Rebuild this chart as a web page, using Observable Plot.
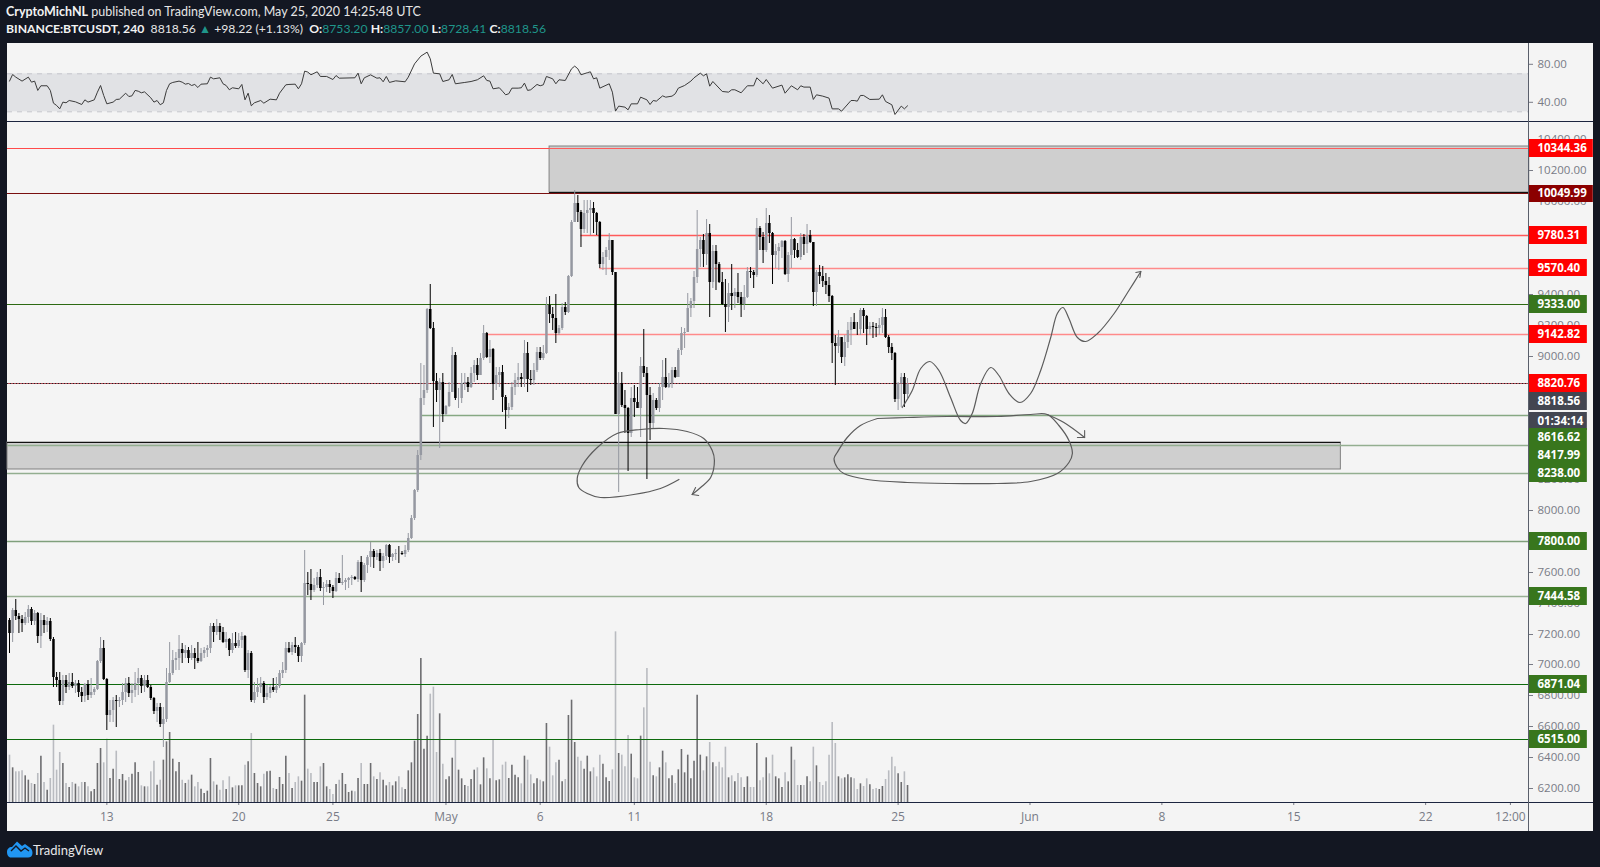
<!DOCTYPE html>
<html><head><meta charset="utf-8">
<script src="https://cdn.jsdelivr.net/npm/d3@7"></script>
<script src="https://cdn.jsdelivr.net/npm/@observablehq/plot@0.6"></script>
<style>
html,body{margin:0;padding:0;background:#131722;overflow:hidden}
#stage{position:relative;width:1600px;height:867px;background:#131722;font-family:"Open Sans",sans-serif}
#pane{position:absolute;left:7px;top:43px;width:1586px;height:788px;background:#f4f4f4}
.sep{position:absolute;left:7px;width:1586px;height:1px;background:#1c2540}
#vaxis{position:absolute;left:1528px;top:43px;width:1px;height:788px;background:#5a5f6b}
.hdr{position:absolute;left:6px;color:#e6e6e6;white-space:nowrap;font-family:Lato,sans-serif}
.hdr b{color:#f2f2f2}.hdr i{font-style:normal;color:#1f958a}
#brand{position:absolute;left:33px;top:842px;color:#e8e8e8;font-size:13px;font-family:Lato,sans-serif}
#logo{position:absolute;left:6px;top:840px}
svg.plot,figure{margin:0}
</style></head><body>
<div id="stage">
<div id="pane"></div>
<div class="hdr" style="top:4px;font-size:12.5px"><b>CryptoMichNL</b> published on TradingView.com, May 25, 2020 14:25:48 UTC</div>
<div class="hdr" style="top:21px;font-size:12.2px"><b>BINANCE:BTCUSDT, 240</b>&nbsp; 8818.56 <i>▲</i> +98.22 (+1.13%) &nbsp;<b>O:</b><i>8753.20</i> <b>H:</b><i>8857.00</i> <b>L:</b><i>8728.41</i> <b>C:</b><i>8818.56</i></div>
<svg id="logo" width="27" height="18" viewBox="0 0 27 18"><path d="M1 12 C1 9 3 7 6 7 L11 1.5 L16 6 L19 4 L23 7 C25 8 26.500 10 26.500 13 C26.500 16 24.500 17.500 22 17.500 L5 17.500 C2.500 17.500 1 15 1 12 Z" fill="#2196f3"/><path d="M5 11 L10 6 L15 11 L19 8 L23 11" fill="none" stroke="#131722" stroke-width="1.400"/></svg>
<div id="brand">TradingView</div>
</div>
<script>
const firstOpen = 7288;
const close = [7201,7352,7314,7292,7270,7305,7357,7283,7331,7184,
7288,7255,7283,7162,6920,6899,6763,6899,6856,6888,
6860,6877,6823,6795,6871,6799,6823,6840,7022,7104,
6903,6672,6704,6769,6763,6769,6823,6877,6812,6834,
6877,6910,6860,6899,6856,6780,6700,6726,6612,6644,
6888,6942,7028,7039,7098,7076,7093,7039,7072,7039,
7022,7072,7093,7104,7249,7212,7249,7212,7147,7162,
7093,7136,7119,7158,7184,6964,7072,6769,6823,6856,
6877,6786,6812,6856,6834,6860,6942,6964,7104,7080,
7126,7110,7056,7136,7529,7520,7481,7514,7568,7492,
7503,7520,7503,7477,7557,7529,7535,7546,7557,7568,
7550,7665,7546,7643,7697,7734,7697,7719,7671,7702,
7773,7697,7715,7723,7719,7717,7740,7816,7946,8129,
8356,8723,8777,9299,9176,8837,8777,8831,8621,8675,
8766,9003,8723,8728,8821,8832,8799,8886,8940,8875,
8983,9145,8993,9041,8816,8875,8896,8734,8648,8670,
8799,8842,8864,8847,9015,8847,8842,8907,9022,8983,
9015,9328,9270,9242,9145,9177,9317,9285,9516,9868,
9987,9933,9818,9926,9943,9954,9922,9868,9594,9641,
9684,9749,9544,8622,8825,8680,8659,8501,8724,8702,
8659,8933,8886,8745,8562,8713,8659,8799,8864,8799,
8825,8907,8864,9037,9144,9155,9310,9353,9511,9688,
9749,9656,9796,9474,9677,9593,9474,9334,9317,9403,
9386,9414,9381,9332,9381,9548,9539,9522,9824,9770,
9684,9861,9792,9651,9677,9705,9742,9526,9651,9755,
9684,9641,9770,9720,9781,9733,9410,9539,9515,9483,
9457,9386,9079,9064,9122,8993,9090,9166,9220,9172,
9170,9295,9258,9172,9194,9183,9181,9198,9252,9122,
9058,9014,8719,8820,8863,8753.2,8818.56];
const high = [7298,7363,7422,7335,7320,7342,7385,7374,7352,7342,
7331,7320,7309,7298,7180,6953,6953,6931,6931,6942,
6942,6899,6899,6856,6877,6899,6910,6856,7028,7180,
7158,6910,6769,6791,6802,6791,6877,6910,6916,6877,
6953,6974,6931,6931,6931,6866,6786,6748,6748,6726,
6974,7147,7093,7082,7190,7141,7126,7115,7126,7104,
7147,7104,7115,7126,7266,7266,7292,7266,7244,7212,
7169,7201,7212,7201,7212,7190,7093,7087,6888,6910,
6920,6894,6866,6866,6910,6920,6964,7018,7147,7147,
7147,7180,7126,7147,7740,7600,7617,7557,7600,7617,
7535,7546,7546,7514,7600,7594,7708,7557,7568,7578,
7572,7676,7702,7654,7708,7794,7745,7740,7745,7719,
7777,7777,7723,7745,7766,7734,7773,7848,7967,8133,
8388,8954,8939,9306,9461,9219,8885,8852,8885,8680,
8831,9057,9025,8788,8890,8886,8864,8929,8972,8983,
9015,9199,9155,9101,9047,8929,8929,8939,8745,8691,
8832,8890,8950,8890,9101,9091,8907,8950,9058,9058,
9069,9382,9386,9317,9399,9199,9339,9350,9522,9879,
10073,10041,9943,10008,10008,10008,9997,9933,9874,9674,
9706,9792,9749,9544,8896,8896,8778,8670,8799,8810,
8799,8993,9171,8929,8799,8756,8724,8821,8972,8983,
8886,8929,8929,9047,9187,9176,9403,9371,9548,9943,
9770,9785,9885,9850,9716,9716,9608,9539,9494,9468,
9591,9435,9537,9414,9457,9576,9576,9554,9893,9841,
9803,9958,9910,9798,9720,9731,9749,9749,9673,9900,
9759,9731,9792,9785,9850,9813,9738,9554,9587,9580,
9537,9511,9392,9133,9166,9112,9133,9220,9252,9274,
9220,9310,9306,9263,9220,9220,9209,9241,9306,9302,
9133,9079,9025,8831,8885,8885,8857];
const low = [7076,7147,7288,7201,7212,7255,7266,7255,7255,7141,
7104,7201,7212,7154,6856,6856,6737,6737,6812,6834,
6845,6812,6791,6758,6758,6769,6780,6802,6834,7007,
6899,6575,6629,6629,6596,6726,6737,6758,6791,6748,
6791,6802,6812,6823,6845,6769,6678,6629,6596,6467,
6629,6877,6931,6964,6964,7011,7039,7007,7028,6970,
7011,7018,7039,7050,7072,7147,7190,7158,7136,7104,
7054,7072,7104,7104,7104,6953,6910,6758,6748,6791,
6812,6752,6769,6780,6823,6812,6845,6910,6942,7072,
7061,7072,7018,7018,7126,7449,7417,7471,7492,7477,
7384,7471,7464,7427,7471,7525,7514,7481,7492,7514,
7546,7535,7471,7535,7589,7632,7626,7676,7604,7622,
7676,7654,7671,7676,7654,7708,7697,7730,7810,7935,
8118,8323,8680,8755,9170,8539,8701,8399,8572,8615,
8669,8766,8712,8659,8691,8778,8767,8788,8832,8842,
8875,8972,8983,8950,8713,8778,8799,8637,8523,8594,
8648,8745,8799,8799,8799,8767,8810,8810,8896,8972,
8972,9011,9209,9166,9080,9134,9166,9263,9274,9512,
9868,9868,9706,9792,9792,9781,9792,9781,9566,9555,
9522,9620,9522,8622,8115,8670,8497,8253,8475,8605,
8659,8475,8864,8199,8454,8529,8648,8637,8713,8788,
8788,8788,8853,8864,9004,9047,9150,9252,9306,9468,
9576,9576,9587,9252,9435,9425,9468,9328,9150,9220,
9295,9306,9338,9252,9295,9371,9500,9435,9511,9684,
9597,9673,9727,9461,9565,9554,9630,9522,9474,9565,
9630,9630,9619,9651,9662,9727,9323,9323,9461,9446,
9397,9349,8950,8809,9014,8950,8935,9047,9068,9172,
9133,9133,9144,9068,9133,9112,9122,9133,9144,9112,
9014,8971,8697,8647,8669,8669,8728.41];
const volume = [142,104,92,92,95,80,67,57,54,87,139,60,37,72,232,97,150,117,57,45,
60,55,47,60,60,47,32,39,117,162,119,190,72,100,154,69,84,65,75,85,
119,90,50,47,47,92,124,52,67,127,182,210,130,92,120,67,57,67,82,47,
60,40,27,34,132,62,52,37,65,39,77,44,50,50,50,112,122,207,87,57,
47,85,92,94,42,39,75,54,139,87,42,60,77,64,322,100,87,60,60,107,
117,47,39,24,54,67,87,54,30,34,32,72,117,54,54,117,77,69,89,67,
50,60,50,62,77,44,39,95,119,184,264,432,160,199,325,346,150,266,115,68,
77,133,188,97,71,51,48,69,97,104,53,134,101,71,188,65,68,112,121,72,
112,82,74,56,139,127,83,56,71,67,62,237,166,80,119,127,62,69,261,307,
180,136,124,100,139,92,104,77,142,115,74,63,98,512,147,142,107,201,145,74,
71,199,284,402,121,80,77,104,154,119,71,80,57,98,159,89,142,71,124,322,
142,95,137,180,119,107,121,104,166,74,80,62,87,74,45,77,45,45,177,65,
74,134,86,142,77,71,45,89,62,166,127,51,51,51,77,62,166,110,60,51,
62,142,240,177,77,71,74,83,74,71,39,56,48,71,53,39,42,39,48,69,
95,136,107,86,60,92,51];
const rsiBar = [0,1,2,4,6,7,8,9,10,12,13,14,15,16,17,18,19,21,23,24,25,27,28,29,30,31,33,34,35,37,38,39,40,41,42,43,45,46,47,48,49,50,51,52,54,55,56,57,58,59,60,61,63,64,65,67,68,69,70,71,73,74,75,76,77,78,80,81,83,85,86,88,89,91,92,93,94,95,96,98,99,101,103,104,105,110,111,112,113,115,117,118,119,120,121,123,126,127,129,131,133,134,135,137,138,140,141,142,145,147,149,151,152,153,154,156,157,158,159,160,162,163,164,165,166,168,169,170,171,173,174,175,177,179,180,181,182,184,185,186,187,188,191,192,193,194,196,197,198,200,201,203,204,205,206,208,209,211,212,213,215,217,218,220,221,222,223,224,227,229,230,231,233,235,237,238,240,241,243,246,247,249,251,252,253,255,256,257,259,261,262,264,265,268,269,270,271,272,274,277,278,279,281,282,284,285,286];
const rsiValue = [62.3,69.3,66.5,62.3,66.5,61.2,62.3,52.5,57.4,57.4,52.5,39.1,36.7,33.1,40.2,39.5,41.9,40.5,37.7,42.6,40.2,42.6,50.7,57.7,47.2,38.4,40.2,43,43.3,49.6,46.1,46.8,52.5,51.7,50,51,44.7,40.2,41.9,37.4,39.5,52.5,59.5,60.9,62.3,61.2,59.1,59.8,57.7,58.8,55.6,59.1,59.5,66.5,64.7,65.8,59.5,57.7,53.2,55.3,54.2,58.8,42.6,49.6,36.3,39.5,41.9,39.1,43.3,42.6,49.6,58.4,58.8,59.1,54.2,59.5,72.8,71.8,69,72.1,67.2,67.2,64,68.2,65.4,65.8,70.7,59.5,65.8,68.9,65.4,65.8,61.6,67.2,60.9,62.6,61.6,66.5,80.5,88.6,92.8,85.8,70.7,70,61.9,63.7,69.3,59.5,60.9,61.9,63.7,67.9,63,62.3,54.2,55.3,51.7,47.9,49,54.9,54.9,55.3,60.2,52.5,53.2,58.8,57.4,58.4,67.2,64.7,59.5,63.7,63,75.3,78.1,75.3,69,71.1,72.1,64.7,65.8,54.9,59.5,50.7,30.7,36,34.9,32.1,38.4,38.4,45.4,42.6,37.7,41.9,41.2,46.8,45.4,46.5,48.9,54.9,57.7,62.3,65.8,70.7,67.9,70,57,61.9,51.4,50.7,53.2,53.2,50,57.4,57.4,65.8,59.5,64,54.9,58.1,49.6,57.4,53.2,57.4,56,56,43,47.9,46.5,44.4,33.1,33.1,30.7,41.9,41.9,41.2,47.2,47.2,43,43.3,47.9,40.9,37.4,27.2,36,33.1,36.3];
const rsiBandLow = 30, rsiBandHigh = 70;
const rsiTicks = [80,40];
const priceTicks = [10400,10200,10000,9400,9200,9000,8200,8000,7600,7400,7200,7000,6800,6600,6400,6200];
const dateTickBars = [31,73,103,139,169,199,241,283,325,367,409,451,478];
const dateTickLabels = ["13","20","25","May","6","11","18","25","Jun","8","15","22","12:00"];
const xMin=-0.637, xMax=483.76;
const levelPrices = [10344.36,10049.99,9780.31,9570.40,9333,9142.82,8820.76,8616.62,8417.99,8238,7800,7444.58,6871.04,6515];
const levelStartBars = [xMin,xMin,182,188,xMin,152,xMin,131,xMin,xMin,xMin,xMin,xMin,xMin];
const labelTexts = ["10344.36","10049.99","9780.31","9570.40","9333.00","9142.82","8820.76","8818.56","01:34:14","8616.62","8417.99","8238.00","7800.00","7444.58","6871.04","6515.00"];
const labelPrices = [10344.36,10049.99,9780.31,9570.40,9333,9142.82,8820.76,8706,8576,8473,8356,8238,7800,7444.58,6871.04,6515];
const zoneStartBars = [172,xMin], zoneEndBars = [484,424], zoneTops = [10358,8442], zoneBottoms = [10061,8264];
const waveBar = [284.3,287.5,290.2,293.1,296,299.7,302.9,304.5,306.6,309.3,312.5,315.1,318.3,321.8,325.2,328.4,331.6,333.7,335.5,337.4,340.1,342.7,346.5,351.8,356.5,360.3];
const wavePrice = [8665,8778,8918,8968,8907,8734,8583,8562,8626,8821,8929,8875,8756,8700,8756,8907,9123,9274,9313,9242,9123,9097,9145,9274,9425,9550];
const waveHeadBar = [358.7,360.3,360], waveHeadPrice = [9544,9550,9507];
const loopRBar = [276.4,271,266.8,263.6,262.6,263.6,265.7,273.2,285.9,298.7,314.6,325.2,333.7,337.4,338.5,337.4,334.2,330.5,325.2,314.6,298.7,285.9,276.4];
const loopRPrice = [8594,8551,8475,8378,8335,8281,8238,8199,8180,8173,8173,8190,8238,8313,8367,8454,8551,8622,8622,8611,8611,8605,8594];
const arrowRBar = [330.5,335.8,342.4], arrowRPrice = [8622,8572,8471];
const arrowRHeadBar = [340.1,342.4,342.4], arrowRHeadPrice = [8475,8471,8519];
const loopLBar = [213.2,207.3,198.8,188.2,184,181.3,180.8,182.4,187.2,193.5,201,208.4,215.8,221.1,223.8,224.5,223.3,220.1,217.4];
const loopLPrice = [8201,8145,8104,8087,8108,8151,8205,8292,8411,8497,8525,8529,8514,8465,8389,8324,8216,8151,8104];
const arrowLHeadBar = [219.5,217.4,218.5], arrowLHeadPrice = [8098,8104,8147];

const bars = close.map((c,i)=>({i,open:i?close[i-1]:firstOpen,close:c,high:high[i],low:low[i],vol:volume[i]}));
const up = bars.filter(b=>b.close>=b.open), down = bars.filter(b=>b.close<b.open);
const rsi = rsiBar.map((b,k)=>({b,v:rsiValue[k]}));
const pts = (xs,ys)=>xs.map((x,k)=>({x,y:ys[k]}));
const levels = levelPrices.map((p,k)=>({p,start:levelStartBars[k]}));
const labels = labelTexts.map((t,k)=>({t,p:labelPrices[k]}));
const zones = zoneTops.map((t,k)=>({t,b:zoneBottoms[k],s:zoneStartBars[k],e:zoneEndBars[k]}));

/* styles */
const C = {up:"#9598a1",down:"#000000",volUp:"#6d6d70",volDown:"#b9bbc0",tick:"#787b86",draw:"#5c5c5c"};
const levelColors = ["#ff5c5c","#7a0f0f","#ff5a5a","#ff8a8a","#2d6a12","#ff8a8a","#b04a55","#86a883","#93ae90","#93ae90","#7f9f7b","#98b094","#0d6a0d","#0d6a0d"];
const levelWidths = [1,1,1.3,1.5,1,1.5,1,1.4,1.4,1.4,1.5,1.5,1,1];
const labelFills = ["#ff0000","#8b0000","#ff0000","#ff0000","#38761d","#ff0000","#ff0000","#434651","#434651","#38761d","#38761d","#38761d","#38761d","#38761d","#38761d","#38761d"];
const xOpt={domain:[xMin,xMax],range:[7,1528],axis:null};
const frame={width:1600,height:867,marginLeft:7,marginRight:72,marginTop:43,marginBottom:65};
const style={position:"absolute",left:"0",top:"0",background:"transparent",overflow:"visible",fontFamily:"'Open Sans',sans-serif",fontSize:"11.5px"};
const halfBox=58;
const boxX2=k=>k<2?504.4:502.5;
const draw=(d,w=1.2)=>Plot.line(d,{x:"x",y:"y",stroke:C.draw,strokeWidth:w,curve:"catmull-rom"});
const dr=(d)=>Plot.line(d,{x:"x",y:"y",stroke:C.draw,strokeWidth:1.1});

const rsiPlot = Plot.plot({...frame,style,x:xOpt,y:{domain:[101.9,19.8],range:[43,121],axis:null},marks:[
  Plot.rect([{a:xMin,b:xMax,l:rsiBandLow,h:rsiBandHigh}],{x1:"a",x2:"b",y1:"l",y2:"h",fill:"#e1e2e5"}),
  Plot.ruleY([rsiBandLow,rsiBandHigh],{x1:xMin,x2:xMax,stroke:"#c5c7cc",strokeDasharray:"5,5"}),
  Plot.line(rsi,{x:"b",y:"v",stroke:"#3b3b3b",strokeWidth:1}),
  Plot.axisY({anchor:"right",ticks:rsiTicks,tickFormat:d3.format(".2f"),tickSize:4,tickPadding:5,label:null,color:C.tick})
]});

const volPlot = Plot.plot({...frame,style,x:xOpt,y:{domain:[0,1000],range:[802,468.7],axis:null},marks:[
  Plot.ruleX(up,{x:"i",y1:0,y2:"vol",stroke:C.volUp,strokeWidth:1.6}),
  Plot.ruleX(down,{x:"i",y1:0,y2:"vol",stroke:C.volDown,strokeWidth:1.6})
]});

const mainPlot = Plot.plot({...frame,style,x:{...xOpt},y:{domain:[10519.4,6108.8],range:[121,802],axis:null,round:true},marks:[
  Plot.rect(zones,{x1:"s",x2:"e",y1:"t",y2:"b",fill:"#cfcfcf",stroke:"#808080",strokeWidth:1}),
  Plot.ruleY([zoneBottoms[0],zoneTops[1]],{x1:(d,k)=>zoneStartBars[k],x2:(d,k)=>zoneEndBars[k],stroke:"#111"}),
  Plot.ruleY(levels,{y:"p",x1:"start",x2:xMax,stroke:(d,k)=>levelColors[k],strokeWidth:(d,k)=>levelWidths[k]}),
  Plot.ruleY([levelPrices[0]],{x1:xMin,x2:172,stroke:"#ff4a4a",strokeWidth:1.2}),
  Plot.ruleY([levelPrices[6]],{x1:xMin,x2:xMax,stroke:"#222",strokeDasharray:"1,2"}),
  Plot.ruleX(up,{x:"i",y1:"low",y2:"high",stroke:C.up,strokeWidth:1}),
  Plot.ruleX(up,{x:"i",y1:"open",y2:"close",stroke:C.up,strokeWidth:2.5}),
  Plot.ruleX(down,{x:"i",y1:"low",y2:"high",stroke:C.down,strokeWidth:1}),
  Plot.ruleX(down,{x:"i",y1:"open",y2:"close",stroke:C.down,strokeWidth:2.5}),
  draw(pts(waveBar,wavePrice)),dr(pts(waveHeadBar,waveHeadPrice)),
  draw(pts(loopRBar,loopRPrice)),draw(pts(arrowRBar,arrowRPrice)),dr(pts(arrowRHeadBar,arrowRHeadPrice)),
  draw(pts(loopLBar,loopLPrice)),dr(pts(arrowLHeadBar,arrowLHeadPrice)),
  Plot.axisY({anchor:"right",ticks:priceTicks,tickFormat:d3.format(".2f"),tickSize:4,tickPadding:5,label:null,color:C.tick}),
  Plot.axisX({anchor:"bottom",ticks:dateTickBars,tickFormat:(d)=>dateTickLabels[dateTickBars.indexOf(d)],tickSize:3,tickPadding:7,label:null,color:C.tick,fontSize:12}),
  Plot.rect(labels,{x1:xMax,x2:(d,k)=>boxX2(k),y1:d=>d.p+halfBox,y2:d=>d.p-halfBox,fill:(d,k)=>labelFills[k]}),
  Plot.text(labels,{x:()=>486.6,y:"p",text:"t",textAnchor:"start",fill:"#fff",fontWeight:"bold",fontSize:11.5})
]});

const stage=document.getElementById("stage");
[rsiPlot,volPlot,mainPlot].forEach(p=>stage.appendChild(p));
const mk=(top)=>{const d=document.createElement("div");d.className="sep";d.style.top=top+"px";stage.appendChild(d);};
[121,802].forEach(mk);
const va=document.createElement("div");va.id="vaxis";stage.appendChild(va);
</script>
</body></html>
